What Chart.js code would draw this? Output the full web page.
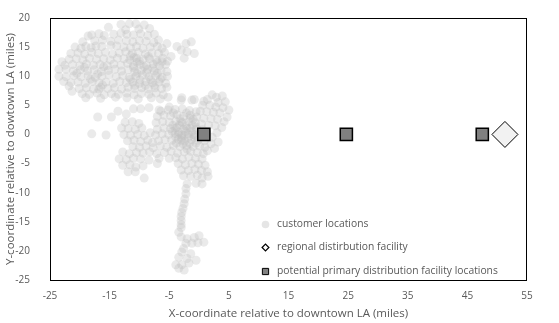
<!DOCTYPE html>
<html>
<head>
<meta charset="utf-8">
<script src="https://cdn.jsdelivr.net/npm/chart.js@4.4.0/dist/chart.umd.min.js"></script>
<style>
  html, body { margin: 0; padding: 0; background: #fff; }
  #wrap { width: 559px; height: 323px; }
</style>
</head>
<body>
<div id="wrap"><canvas id="chart"></canvas></div>
<script>
// customer locations, [x, y] in miles relative to downtown LA
const customers = [
  // upper-left cluster
  [-15.2,18.4],[-13.1,18.9],[-11.7,19.0],[-10.6,19.0],[-9.2,18.8],[-10.1,18.1],[-8.3,18.2],[-12.3,18.0],
  [-18.6,16.9],[-18.0,17.1],[-16.8,17.3],[-15.9,17.0],[-14.3,17.2],[-13.1,17.4],[-12.1,17.2],[-11.0,17.1],[-9.8,17.3],[-8.6,17.0],[-7.5,17.2],
  [-19.5,15.9],[-17.5,16.1],[-16.2,16.2],[-14.8,16.0],[-13.5,16.2],[-12.2,16.1],[-11.1,15.9],[-10.0,16.1],[-8.9,16.0],[-7.6,15.8],[-6.8,16.2],
  [-20.8,15.0],[-19.8,14.8],[-19.0,15.1],[-18.1,14.9],[-17.3,15.2],[-16.3,15.1],[-14.8,15.3],[-13.8,15.2],[-12.6,15.0],[-11.5,14.9],[-10.5,15.1],[-9.4,14.8],[-8.2,15.0],[-7.0,15.1],[-6.2,14.8],
  [-21.5,13.9],[-20.3,14.0],[-19.2,13.8],[-18.0,14.1],[-16.9,13.9],[-15.7,14.1],[-14.5,13.8],[-13.4,14.0],[-12.3,14.2],[-11.2,13.9],[-10.2,14.1],[-9.0,13.8],[-7.9,14.0],[-6.8,13.9],[-5.8,14.1],
  [-23.0,12.5],[-21.8,12.9],[-20.6,13.0],[-19.5,12.8],[-18.4,13.1],[-17.2,12.9],[-16.0,13.0],[-14.9,12.8],[-13.7,13.1],[-12.6,13.0],[-11.6,12.8],[-10.5,13.1],[-9.4,12.9],[-8.3,13.0],[-7.2,12.8],[-6.1,13.1],[-5.3,12.6],
  [-22.5,11.9],[-21.2,12.0],[-20.0,11.8],[-18.9,12.1],[-17.7,11.9],[-16.6,12.0],[-15.4,11.8],[-14.3,12.1],[-13.1,11.9],[-12.0,12.2],[-11.0,11.8],[-9.9,12.0],[-8.8,11.9],[-7.7,12.1],[-6.6,11.8],[-5.6,12.0],
  [-23.5,11.2],[-22.3,11.2],[-21.1,10.9],[-19.9,11.1],[-18.7,10.9],[-17.6,11.1],[-16.4,10.8],[-15.2,11.0],[-14.1,11.2],[-13.0,10.9],[-11.9,11.1],[-10.8,10.8],[-9.7,11.0],[-8.6,11.2],[-7.5,10.9],[-6.4,11.0],[-5.4,10.8],
  [-23.5,10.0],[-22.3,9.9],[-21.0,10.1],[-19.8,9.9],[-18.6,10.1],[-17.4,9.8],[-16.3,10.0],[-15.1,10.2],[-13.9,9.9],[-12.8,10.1],[-11.7,9.8],[-10.6,10.0],[-9.5,10.2],[-8.4,9.9],[-7.3,10.1],[-6.2,9.8],[-5.3,10.0],
  [-22.7,9.1],[-21.5,8.9],[-20.3,9.0],[-19.1,8.8],[-17.9,9.1],[-16.8,8.9],[-15.6,9.0],[-14.4,8.8],[-13.3,9.1],[-12.2,8.9],[-11.1,9.0],[-10.0,8.8],[-8.9,9.1],[-7.8,8.9],[-6.7,9.0],[-5.6,8.8],
  [-21.8,8.3],[-20.1,7.9],[-18.9,8.0],[-17.7,7.8],[-16.5,8.1],[-15.3,7.9],[-14.2,8.0],[-13.0,7.8],[-11.9,8.1],[-10.8,7.9],[-9.6,8.0],[-8.5,7.8],[-7.4,8.0],[-6.3,7.9],[-5.4,8.1],
  [-21.3,7.4],[-19.6,7.0],[-18.4,6.9],[-17.1,7.1],[-15.9,6.8],[-14.7,7.0],[-13.5,6.9],[-12.1,7.1],[-10.9,6.8],[-9.7,7.0],[-8.4,6.9],[-7.2,7.1],[-6.0,6.8],
  [-19.0,6.3],[-16.5,6.2],[-14.0,6.4],[-12.1,6.3],[-10.2,6.1],[-8.0,6.3],[-6.5,6.1],[-5.2,6.4],
  [-11.5,13.5],[-10.0,12.6],[-8.5,13.4],[-7.0,12.4],[-11.0,11.5],[-9.2,11.6],[-7.8,11.4],[-6.2,12.5],[-10.4,10.5],[-8.8,10.6],[-7.0,10.5],
  [-11.5,9.5],[-9.9,9.4],[-8.1,9.4],[-6.5,9.5],[-10.8,8.4],[-9.0,8.4],[-7.5,8.5],
  [-19.2,11.5],[-17.0,10.4],[-18.2,9.5],[-16.0,11.6],[-20.5,10.5],
  [-10.9,13.2],[-10.4,12.4],[-16.8,7.8],[-16.2,8.5],
  // scattered to the right of it
  [-5.4,15.6],[-3.7,15.1],[-2.2,15.6],[-1.3,15.9],[-3.0,14.5],[-2.0,14.2],[-0.8,13.9],[-2.5,13.1],[-4.7,13.4],
  [-2.9,6.3],[-0.8,6.0],[0.8,5.7],
  // loose row between the clusters
  [-17.0,3.0],[-14.7,3.0],[-13.6,4.0],[-12.2,3.5],[-11.0,4.4],[-9.8,4.4],[-8.4,4.6],[-6.7,4.2],[-5.0,4.7],[-3.0,5.9],[-1.2,5.9],
  [-18.0,0.1],[-15.6,-0.1],
  // central cluster, east arm
  [2.2,6.8],[2.9,6.4],[3.9,6.6],[1.4,6.0],[3.2,5.5],[4.4,5.6],[0.6,5.0],[1.8,5.0],[2.8,4.7],[4.0,4.6],[5.0,4.2],
  [0.2,4.0],[1.3,3.9],[2.4,3.8],[3.5,3.7],[4.7,3.0],[0.8,2.8],[2.0,2.7],[3.1,2.6],[4.2,2.2],[1.6,1.6],[2.7,1.5],[3.8,1.2],
  [3.0,0.3],[2.2,-0.5],[3.2,-1.3],[2.0,-1.6],[2.6,-2.4],[1.4,-2.8],
  // central cluster, core
  [-6.4,4.0],[-5.2,4.2],[-4.0,4.3],[-2.8,4.4],[-1.6,4.1],[-0.5,3.9],
  [-7.0,3.1],[-5.9,3.3],[-4.8,3.2],[-3.7,3.4],[-2.6,3.1],[-1.5,3.3],[-0.4,3.0],
  [-7.2,2.0],[-6.1,2.2],[-5.0,2.1],[-3.9,2.3],[-2.8,2.0],[-1.7,2.2],[-0.6,2.0],[0.4,1.8],
  [-7.0,0.9],[-5.9,1.1],[-4.8,1.0],[-3.7,1.2],[-2.6,0.9],[-1.5,1.1],[-0.4,0.9],[0.6,0.8],
  [-7.3,-0.1],[-6.2,0.1],[-5.1,0.0],[-4.0,0.2],[-2.9,-0.1],[-1.8,0.1],[-0.7,-0.1],[0.3,0.0],[1.3,0.2],
  [-6.8,-1.1],[-5.7,-0.9],[-4.6,-1.0],[-3.5,-0.8],[-2.4,-1.1],[-1.3,-0.9],[-0.2,-1.0],[0.9,-1.1],
  [-6.5,-2.0],[-5.4,-2.2],[-4.3,-1.9],[-3.2,-2.1],[-2.1,-1.9],[-1.0,-2.1],[0.1,-2.0],[1.0,-2.2],
  [-5.8,-3.1],[-4.7,-2.9],[-3.6,-3.2],[-2.5,-3.0],[-1.4,-2.9],[-0.3,-3.1],[0.7,-3.3],
  [-5.0,-4.1],[-3.9,-4.0],[-2.8,-4.2],[-1.7,-3.9],[-0.6,-4.1],[0.5,-4.2],
  [-4.3,3.7],[-3.2,2.7],[-2.1,3.7],[-1.0,2.6],[-4.4,1.6],[-3.3,1.6],[-2.2,1.5],[-1.1,1.6],[-4.5,0.5],[-3.4,0.4],
  [-2.3,0.5],[-1.2,0.5],[-3.9,-0.5],[-2.9,-0.6],[-1.8,-0.5],[-0.8,-0.5],[-3.8,-1.5],[-2.7,-1.6],[-1.6,-1.5],[-0.5,-1.5],
  [-3.0,2.2],[-2.0,1.0],[-1.0,0.0],[-3.0,-1.0],[-2.0,-2.5],[-4.0,1.0],[-1.5,2.8],[-2.5,-0.2],[-0.5,1.3],[-3.5,0.0],
  // central cluster, south part
  [-3.5,-5.0],[-2.3,-5.2],[-1.2,-5.0],[-0.1,-5.1],[1.0,-5.3],[-3.0,-6.1],[-1.8,-6.2],[-0.7,-6.0],[0.4,-6.2],[1.4,-6.4],
  [-2.6,-7.1],[-1.4,-7.2],[-0.3,-7.0],[0.5,-7.5],[1.5,-7.2],[-2.0,-8.5],[-0.5,-8.4],[0.5,-8.5],
  // west lobe of central cluster
  [-12.4,2.1],[-11.2,2.2],[-10.1,1.9],[-13.0,1.1],[-11.9,1.0],[-10.7,0.9],[-9.6,1.1],[-12.6,0.0],[-11.5,-0.1],[-10.3,0.0],[-9.2,-0.2],[-8.2,0.3],
  [-12.0,-1.1],[-10.9,-1.0],[-9.8,-1.2],[-8.6,-1.0],[-7.8,-1.4],[-11.1,-2.1],[-10.0,-2.2],[-8.9,-2.0],[-7.7,-2.3],
  [-10.5,-3.1],[-9.4,-3.2],[-8.3,-3.0],[-7.1,-3.3],[-6.7,-4.1],[-12.8,-3.0],[-11.7,-3.3],[-13.4,-4.2],[-12.2,-4.3],[-11.0,-4.1],[-9.8,-4.2],[-8.4,-4.4],
  [-12.8,-5.3],[-11.6,-5.2],[-10.6,-5.6],[-9.4,-5.4],[-7.0,-5.0],[-11.9,-6.4],[-10.7,-6.4],[-9.2,-7.5],
  // southern tail
  [-2.2,-9.3],[-2.2,-10.2],[-2.4,-11.1],[-2.5,-11.9],[-2.7,-12.7],[-2.9,-13.4],[-3.0,-14.1],[-3.0,-14.8],[-3.0,-15.5],[-3.0,-16.0],[-3.4,-16.8],
  [-2.0,-17.9],[-0.8,-17.7],[0.0,-17.4],[0.8,-18.5],[-1.2,-18.7],[-2.2,-18.7],[-3.0,-17.6],[-0.2,-18.6],
  [-2.9,-20.2],[-3.4,-21.1],[-2.0,-21.3],[-3.9,-22.4],[-2.9,-22.4],[-1.7,-22.1],[-0.5,-21.6],[-2.5,-23.3],[-3.4,-23.0],[-2.6,-19.6],[-1.4,-20.5]
];

const primaryX = [0.8, 24.7, 47.5];
const primaryY = [0, 0, 0];
const regionalX = [51.3];
const regionalY = [0];

const xTicks = [-25, -15, -5, 5, 15, 25, 35, 45, 55];
const yTicks = [-25, -20, -15, -10, -5, 0, 5, 10, 15, 20];

const labels = ['customer locations', 'regional distirbution facility', 'potential primary distribution facility locations'];

const grey = '#595959';
const font = 'Open Sans';

function pts(xs, ys) {
  return xs.map((x, i) => ({ x: x, y: ys[i] }));
}

// outline round the plot area
const framePlugin = {
  id: 'frame',
  afterDraw(chart) {
    const a = chart.chartArea;
    const ctx = chart.ctx;
    ctx.save();
    ctx.strokeStyle = '#000';
    ctx.lineWidth = 1;
    ctx.strokeRect(Math.round(a.left) + 0.5, Math.round(a.top) + 0.5, Math.round(a.right - a.left) - 1, Math.round(a.bottom - a.top));
    ctx.restore();
  }
};

// legend sits inside the plot, lower middle
const legendPlugin = {
  id: 'insideLegend',
  afterDraw(chart) {
    const ctx = chart.ctx;
    const a = chart.chartArea;
    const mx = a.left + 215.5, tx = a.left + 227;
    const rows = [a.top + 206.5, a.top + 229.5, a.top + 253.5];
    const marks = [
      { pointStyle: 'circle', radius: 3.8, backgroundColor: 'rgba(191,191,191,0.4)', borderColor: 'rgba(0,0,0,0)', borderWidth: 0 },
      { pointStyle: 'rectRot', radius: 3.4, backgroundColor: '#fff', borderColor: '#000', borderWidth: 1.2 },
      { pointStyle: 'rect', radius: 4.4, backgroundColor: '#808080', borderColor: '#000', borderWidth: 1 }
    ];
    ctx.save();
    ctx.font = '10.3px "' + font + '"';
    ctx.fillStyle = grey;
    ctx.textBaseline = 'middle';
    labels.forEach((t, i) => {
      ctx.save();
      ctx.fillStyle = marks[i].backgroundColor;
      ctx.strokeStyle = marks[i].borderColor;
      ctx.lineWidth = marks[i].borderWidth;
      Chart.helpers.drawPoint(ctx, marks[i], mx, rows[i]);
      ctx.restore();
      ctx.fillText(t, tx, rows[i]);
    });
    ctx.restore();
  }
};

new Chart(document.getElementById('chart'), {
  type: 'scatter',
  data: {
    datasets: [
      {
        label: labels[0],
        data: customers.map(p => ({ x: p[0], y: p[1] })),
        pointRadius: 4.5,
        pointBackgroundColor: 'rgba(191,191,191,0.32)',
        pointBorderWidth: 0,
        pointBorderColor: 'rgba(0,0,0,0)',
        order: 3
      },
      {
        label: labels[2],
        data: pts(primaryX, primaryY),
        pointStyle: 'rect',
        pointRadius: 8.6,
        pointBackgroundColor: '#808080',
        pointBorderColor: '#000',
        pointBorderWidth: 1.5,
        order: 2
      },
      {
        label: labels[1],
        data: pts(regionalX, regionalY),
        pointStyle: 'rectRot',
        pointRadius: 13,
        pointBackgroundColor: '#f2f2f2',
        pointBorderColor: '#000',
        pointBorderWidth: 1,
        order: 1
      }
    ]
  },
  options: {
    responsive: true,
    maintainAspectRatio: false,
    animation: false,
    layout: { padding: { top: 15, right: 32, left: 0, bottom: 0 } },
    plugins: {
      legend: { display: false },
      tooltip: { enabled: false }
    },
    scales: {
      x: {
        type: 'linear',
        min: xTicks[0],
        max: xTicks[xTicks.length - 1],
        afterBuildTicks: s => { s.ticks = xTicks.map(v => ({ value: v })); },
        afterFit: s => { s.height = 43; },
        grid: { display: false },
        border: { display: false },
        ticks: { color: grey, font: { family: font, size: 10 }, padding: 2, maxRotation: 0, autoSkip: false },
        title: { display: true, text: 'X-coordinate relative to downtown LA (miles)', color: grey, font: { family: font, size: 11.5 }, padding: { top: 2, bottom: 2 } }
      },
      y: {
        type: 'linear',
        min: yTicks[0],
        max: yTicks[yTicks.length - 1],
        afterBuildTicks: s => { s.ticks = yTicks.map(v => ({ value: v })); },
        afterFit: s => { s.width = 50; },
        grid: { display: false },
        border: { display: false },
        ticks: { color: grey, font: { family: font, size: 10 }, padding: 12, autoSkip: false },
        title: { display: true, text: 'Y-coordinate relative to dowtown LA (miles)', color: grey, font: { family: font, size: 11.5 }, padding: { top: 4, bottom: 4 } }
      }
    }
  },
  plugins: [framePlugin, legendPlugin]
});
</script>
</body>
</html>
